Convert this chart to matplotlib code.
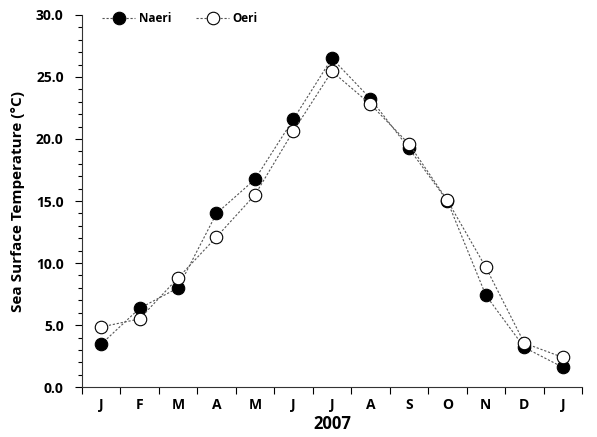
import matplotlib.pyplot as plt
import numpy as np

plt.rcParams['font.family'] = ['Open Sans', 'DejaVu Sans']

months = ['J', 'F', 'M', 'A', 'M', 'J', 'J', 'A', 'S', 'O', 'N', 'D', 'J']
naeri = [3.45, 6.35, 8.0, 14.0, 16.75, 21.6, 26.5, 23.25, 19.25, 15.0, 7.4, 3.2, 1.6]
oeri = [4.85, 5.5, 8.8, 12.1, 15.5, 20.65, 25.45, 22.8, 19.6, 15.05, 9.65, 3.55, 2.4]

fig = plt.figure(figsize=(5.97, 4.37), dpi=100)
ax = fig.add_axes([0.137, 0.114, 0.838, 0.852])

x = np.arange(len(months))
line_kw = dict(color='#555555', linestyle=(0, (2, 1.6)), linewidth=0.8,
               markersize=9, markeredgecolor='black', markeredgewidth=0.8)
ax.plot(x, naeri, marker='o', markerfacecolor='black', label='Naeri', **line_kw)
ax.plot(x, oeri, marker='o', markerfacecolor='white', label='Oeri', **line_kw)

ax.set_xlim(-0.5, len(months) - 0.5)
ax.set_ylim(0, 30)

# month labels centred, ticks on the boundaries
ax.set_xticks(x)
ax.set_xticklabels(months, fontsize=10, fontweight='bold')
ax.tick_params(axis='x', which='major', length=0, pad=8)
ax.set_xticks(np.arange(-0.5, len(months)), minor=True)
ax.tick_params(axis='x', which='minor', length=5, width=0.8, direction='out')

ax.set_yticks(np.arange(0, 31, 5))
ax.set_yticklabels([f'{v:.1f}' for v in np.arange(0, 31, 5)], fontsize=10, fontweight='bold')
ax.set_yticks(np.arange(0, 31, 1), minor=True)
ax.tick_params(axis='y', which='major', length=5, width=0.8, pad=8)
ax.tick_params(axis='y', which='minor', length=3, width=0.8)

for side in ['top', 'right']:
    ax.spines[side].set_visible(False)
for side in ['left', 'bottom']:
    ax.spines[side].set_linewidth(0.8)
    ax.spines[side].set_color('#333333')

ax.set_xlabel('2007', fontsize=12, fontweight='bold', labelpad=2)
ax.set_ylabel('Sea Surface Temperature (°C)', fontsize=11, fontweight='bold', labelpad=8)

leg = ax.legend(loc='upper left', ncol=2, frameon=False, prop={'size': 8.5, 'weight': 'bold'},
                bbox_to_anchor=(0.02, 1.035), columnspacing=2.1, handlelength=2.8,
                handletextpad=0.3)

fig.savefig('out.png', dpi=100)
